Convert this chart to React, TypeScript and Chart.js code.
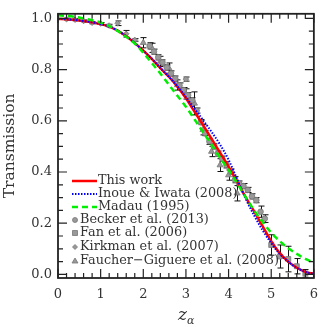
import { useEffect, useRef } from "react";
import { Chart, registerables } from "chart.js";
Chart.register(...registerables);

// ---- model curves (sampled every 0.2 in z_alpha) ----
const zGrid = [0, 0.2, 0.4, 0.6, 0.8, 1.0, 1.2, 1.4, 1.6, 1.8, 2.0, 2.2, 2.4, 2.6, 2.8, 3.0, 3.2, 3.4, 3.6, 3.8, 4.0, 4.2, 4.4, 4.6, 4.8, 5.0, 5.2, 5.4, 5.6, 5.8, 6.0];
const thisWork = [0.998, 0.997, 0.994, 0.990, 0.985, 0.978, 0.968, 0.952, 0.930, 0.904, 0.874, 0.842, 0.806, 0.772, 0.733, 0.688, 0.636, 0.584, 0.530, 0.476, 0.421, 0.362, 0.302, 0.246, 0.188, 0.130, 0.083, 0.050, 0.026, 0.010, 0.002];
const inoueIwata = [0.998, 0.997, 0.994, 0.990, 0.985, 0.978, 0.968, 0.952, 0.930, 0.904, 0.874, 0.842, 0.806, 0.772, 0.735, 0.692, 0.648, 0.603, 0.557, 0.507, 0.448, 0.372, 0.296, 0.230, 0.172, 0.122, 0.080, 0.049, 0.026, 0.010, 0.002];
const madau = [1.012, 1.010, 1.006, 1.000, 0.993, 0.984, 0.970, 0.951, 0.928, 0.902, 0.866, 0.826, 0.785, 0.741, 0.698, 0.655, 0.606, 0.556, 0.506, 0.456, 0.409, 0.357, 0.302, 0.250, 0.204, 0.163, 0.130, 0.102, 0.080, 0.061, 0.046];

// ---- observations ----
const beckerZ = [2.15, 2.25, 2.35, 2.45, 2.55, 2.65, 2.75, 2.85, 2.95, 3.05, 3.15, 3.25, 3.35, 3.45, 3.55, 3.65, 3.75, 3.85, 3.95, 4.05, 4.15, 4.25, 4.35, 4.45, 4.55, 4.65, 4.75, 4.85];
const beckerT = [0.893, 0.870, 0.848, 0.828, 0.808, 0.785, 0.765, 0.738, 0.720, 0.700, 0.680, 0.640, 0.595, 0.552, 0.520, 0.500, 0.472, 0.452, 0.428, 0.402, 0.370, 0.355, 0.345, 0.330, 0.305, 0.290, 0.245, 0.218];
const beckerErr = [0.012, 0.010, 0.010, 0.010, 0.010, 0.010, 0.010, 0.010, 0.010, 0.010, 0.010, 0.010, 0.010, 0.010, 0.012, 0.010, 0.010, 0.010, 0.012, 0.010, 0.012, 0.010, 0.010, 0.010, 0.010, 0.010, 0.022, 0.015];

const fanZ = [5.0, 5.2, 5.4, 5.6, 5.8];
const fanT = [0.115, 0.070, 0.060, 0.032, 0.004];
const fanErr = [0.040, 0.045, 0.050, 0.030, 0.015];

const kirkmanZ = [0.2, 0.4, 0.6, 0.8, 1.0, 1.2, 1.4, 1.6, 1.8, 3.0];
const kirkmanT = [0.997, 0.995, 0.990, 0.983, 0.980, 0.972, 0.981, 0.940, 0.916, 0.763];
const kirkmanErr = [0.004, 0.004, 0.004, 0.004, 0.004, 0.005, 0.009, 0.013, 0.005, 0.008];

const fgZ = [2.0, 2.2, 2.4, 2.6, 2.8, 3.0, 3.2, 3.4, 3.6, 3.8, 4.0, 4.2];
const fgT = [0.905, 0.885, 0.832, 0.806, 0.740, 0.705, 0.668, 0.565, 0.480, 0.427, 0.388, 0.317];
const fgErr = [0.020, 0.018, 0.020, 0.020, 0.020, 0.020, 0.045, 0.020, 0.020, 0.025, 0.020, 0.030];

const xMajorTicks = [0, 1, 2, 3, 4, 5, 6];
const yMajorTicks = [0, 0.2, 0.4, 0.6, 0.8, 1.0];
const seriesLabels = ["This work", "Inoue & Iwata (2008)", "Madau (1995)", "Becker et al. (2013)", "Fan et al. (2006)", "Kirkman et al. (2007)", "Faucher\u2212Giguere et al. (2008)"];
const yTitle = "Transmission";

const SERIF = "'DejaVu Serif', serif";
const TEXT = "#333";

const pts = (xs: number[], ys: number[]) => xs.map((x, i) => ({ x, y: ys[i] }));

const overlay = {
  id: "overlay",
  beforeDatasetsDraw(chart: any) {
    const { ctx, scales } = chart;
    const { x, y } = scales;
    ctx.save();
    ctx.strokeStyle = "#111";
    ctx.lineWidth = 1;
    chart.data.datasets.forEach((ds: any) => {
      if (!ds.errors) return;
      ds.data.forEach((p: any, i: number) => {
        const e = ds.errors[i];
        const px = Math.round(x.getPixelForValue(p.x)) + 0.5;
        const y1 = y.getPixelForValue(p.y - e);
        const y2 = y.getPixelForValue(p.y + e);
        ctx.beginPath();
        ctx.moveTo(px, y1); ctx.lineTo(px, y2);
        ctx.moveTo(px - 3, y1); ctx.lineTo(px + 3, y1);
        ctx.moveTo(px - 3, y2); ctx.lineTo(px + 3, y2);
        ctx.stroke();
      });
    });
    ctx.restore();
  },
  afterDraw(chart: any) {
    const { ctx, chartArea, scales } = chart;
    const { left, right, top, bottom } = chartArea;
    const { x, y } = scales;
    ctx.save();
    // frame
    ctx.strokeStyle = "#222";
    ctx.lineWidth = 1.8;
    ctx.strokeRect(left, top, right - left, bottom - top);
    // inward ticks
    ctx.lineWidth = 1.2;
    ctx.beginPath();
    for (let i = 0; i <= 30; i++) {
      const v = i * 0.2;
      const px = x.getPixelForValue(v);
      const major = i % 5 === 0;
      const len = major ? 9 : 5;
      ctx.moveTo(px, bottom); ctx.lineTo(px, bottom - len);
      ctx.moveTo(px, top); ctx.lineTo(px, top + len);
    }
    for (let i = 0; i <= 20; i++) {
      const v = i * 0.05;
      const py = y.getPixelForValue(v);
      const major = i % 4 === 0;
      const len = major ? 9 : 5;
      ctx.moveTo(left, py); ctx.lineTo(left + len, py);
      ctx.moveTo(right, py); ctx.lineTo(right - len, py);
    }
    ctx.stroke();

    // legend
    ctx.font = `12.8px ${SERIF}`;
    ctx.fillStyle = TEXT;
    ctx.textBaseline = "middle";
    ctx.textAlign = "left";
    const rows = [181, 194, 207, 220, 233, 247, 261];
    const lineStyles = [
      { c: "#ff0000", w: 2.5, d: [] as number[] },
      { c: "#0000ff", w: 2, d: [1.5, 1.5] },
      { c: "#00ee00", w: 2.5, d: [6, 4] },
    ];
    lineStyles.forEach((s, i) => {
      ctx.strokeStyle = s.c;
      ctx.lineWidth = s.w;
      ctx.setLineDash(s.d);
      ctx.beginPath();
      ctx.moveTo(72, rows[i]); ctx.lineTo(97, rows[i]);
      ctx.stroke();
      ctx.setLineDash([]);
      ctx.fillText(seriesLabels[i], 98, rows[i]);
    });
    const markerDs = [3, 4, 5, 6];
    markerDs.forEach((di, k) => {
      const ry = rows[3 + k];
      const ds = chart.data.datasets[di];
      ctx.fillStyle = "#999";
      ctx.strokeStyle = "#777";
      ctx.lineWidth = 0.8;
      ctx.beginPath();
      const cx = 75;
      if (ds.pointStyle === "circle") ctx.arc(cx, ry, 2.5, 0, Math.PI * 2);
      else if (ds.pointStyle === "rect") ctx.rect(cx - 2.5, ry - 2.5, 5, 5);
      else if (ds.pointStyle === "rectRot") { ctx.moveTo(cx, ry - 2.5); ctx.lineTo(cx + 2.5, ry); ctx.lineTo(cx, ry + 2.5); ctx.lineTo(cx - 2.5, ry); ctx.closePath(); }
      else { ctx.moveTo(cx, ry - 3); ctx.lineTo(cx + 3, ry + 2); ctx.lineTo(cx - 3, ry + 2); ctx.closePath(); }
      ctx.fill(); ctx.stroke();
      ctx.fillStyle = TEXT;
      ctx.fillText(seriesLabels[di], 80, ry);
    });

    // y title
    ctx.save();
    ctx.translate(10, (top + bottom) / 2);
    ctx.rotate(-Math.PI / 2);
    ctx.textAlign = "center";
    ctx.textBaseline = "middle";
    ctx.font = `15.5px ${SERIF}`;
    ctx.fillStyle = TEXT;
    ctx.fillText(yTitle, 0, 0);
    ctx.restore();

    // x title z_alpha
    ctx.fillStyle = TEXT;
    ctx.textBaseline = "alphabetic";
    ctx.font = `italic 17px ${SERIF}`;
    ctx.textAlign = "left";
    const cx = (left + right) / 2 - 5;
    ctx.fillText("z", cx - 3, 320);
    ctx.font = `italic 11px ${SERIF}`;
    ctx.fillText("\u03b1", cx + 6, 324);
    ctx.restore();
  },
};

export default function App() {
  const ref = useRef<HTMLCanvasElement | null>(null);
  useEffect(() => {
    document.body.style.margin = "0";
    const canvas = ref.current!;
    const lineDs = (label: string, ys: number[], color: string, width: number, dash: number[], order: number) => ({
      type: "line",
      label,
      data: pts(zGrid, ys),
      borderColor: color,
      backgroundColor: color,
      borderWidth: width,
      borderDash: dash,
      pointRadius: 0,
      fill: false,
      tension: 0,
      cubicInterpolationMode: "monotone",
      order,
    });
    const pointDs = (label: string, xs: number[], ys: number[], errs: number[], style: string, r: number) => ({
      type: "line",
      label,
      data: pts(xs, ys),
      errors: errs,
      showLine: false,
      pointStyle: style,
      pointRadius: r,
      pointBackgroundColor: "#999",
      pointBorderColor: "#777",
      pointBorderWidth: 0.8,
      order: 5,
    });
    const chart = new Chart(canvas, {
      type: "line",
      data: {
        datasets: [
          lineDs(seriesLabels[0], thisWork, "#ff0000", 2.5, [], 2),
          lineDs(seriesLabels[1], inoueIwata, "#0000ff", 2, [1.5, 1.5], 1),
          lineDs(seriesLabels[2], madau, "#00ee00", 2.5, [6, 4], 0),
          pointDs(seriesLabels[3], beckerZ, beckerT, beckerErr, "circle", 2.8),
          pointDs(seriesLabels[4], fanZ, fanT, fanErr, "rect", 3.5),
          pointDs(seriesLabels[5], kirkmanZ, kirkmanT, kirkmanErr, "rectRot", 2.8),
          pointDs(seriesLabels[6], fgZ, fgT, fgErr, "triangle", 3.5),
        ] as any,
      },
      options: {
        animation: false,
        responsive: false,
        layout: { padding: { top: 10, right: 10, left: 0, bottom: 0 } },
        plugins: { legend: { display: false }, tooltip: { enabled: false } },
        scales: {
          x: {
            type: "linear",
            min: 0,
            max: 6,
            grid: { display: false, drawTicks: false },
            border: { display: false },
            afterBuildTicks: (s: any) => { s.ticks = xMajorTicks.map((v) => ({ value: v })); },
            afterFit: (s: any) => { s.height = 49; },
            ticks: {
              padding: 9,
              color: TEXT,
              font: { family: SERIF, size: 13 },
              maxRotation: 0,
              callback: (v: any) => String(v),
            },
          },
          y: {
            type: "linear",
            min: -0.014,
            max: 1.018,
            grid: { display: false, drawTicks: false },
            border: { display: false },
            afterBuildTicks: (s: any) => { s.ticks = yMajorTicks.map((v) => ({ value: v })); },
            afterFit: (s: any) => { s.width = 58; },
            ticks: {
              padding: 6,
              color: TEXT,
              font: { family: SERIF, size: 13 },
              callback: (v: any) => Number(v).toFixed(1),
            },
          },
        },
      },
      plugins: [overlay],
    });
    return () => chart.destroy();
  }, []);
  return <canvas ref={ref} width={327} height={327} style={{ display: "block", width: 327, height: 327 }} />;
}
